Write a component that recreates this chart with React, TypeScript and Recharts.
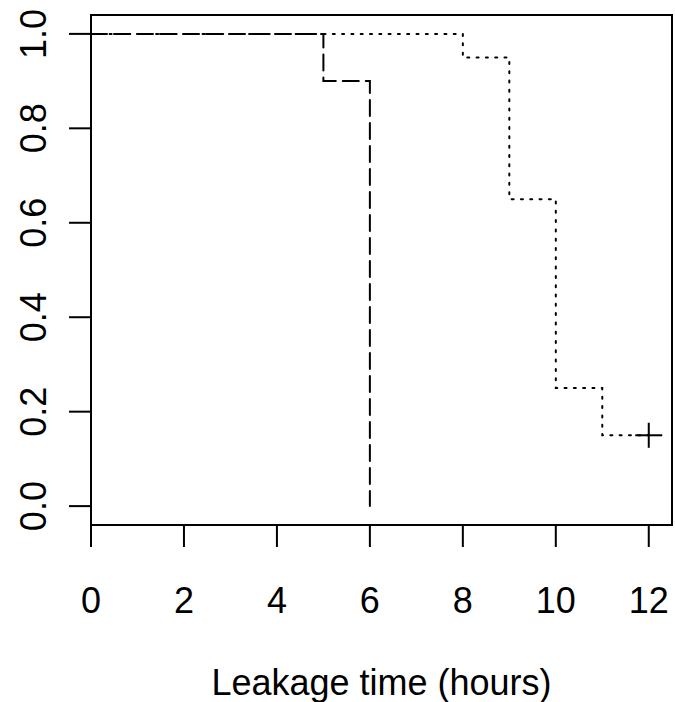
import React from "react";
import {
  ComposedChart,
  Line,
  Scatter,
  XAxis,
  YAxis,
  ReferenceArea,
} from "recharts";

// Kaplan-Meier step curves (time in hours, survival proportion)
const dashedTimes = [0, 5, 6];
const dashedSurv = [1.0, 0.9, 0.0];
const dottedTimes = [0, 8, 9, 10, 11, 12];
const dottedSurv = [1.0, 0.95, 0.65, 0.25, 0.15, 0.15];
const censorTimes = [12];
const censorSurv = [0.15];

const xTicks = [0, 2, 4, 6, 8, 10, 12];
const yTicks = [0, 0.2, 0.4, 0.6, 0.8, 1.0];
const xLabel = "Leakage time (hours)";

const dashedData = dashedTimes.map((t, i) => ({ t, s: dashedSurv[i] }));
const dottedData = dottedTimes.map((t, i) => ({ t, s: dottedSurv[i] }));
const censorData = censorTimes.map((t, i) => ({ t, s: censorSurv[i] }));

const FONT = "'Liberation Sans', Arial, Helvetica, sans-serif";
const FS = 36;

const XTick = (props: any) => {
  const { x, y, payload } = props;
  return (
    <text
      x={x}
      y={y + 64}
      textAnchor="middle"
      fontFamily={FONT}
      fontSize={FS}
      fill="#000"
    >
      {String(payload.value)}
    </text>
  );
};

const YTick = (props: any) => {
  const { x, y, payload } = props;
  const bx = x - 21;
  return (
    <text
      x={bx}
      y={y}
      textAnchor="middle"
      transform={`rotate(-90, ${bx}, ${y})`}
      fontFamily={FONT}
      fontSize={FS}
      fill="#000"
    >
      {Number(payload.value).toFixed(1)}
    </text>
  );
};

const Plus = (props: any) => {
  const { cx, cy } = props;
  const h = 13.5;
  return (
    <g stroke="#000" strokeWidth={2}>
      <line x1={cx - h} y1={cy} x2={cx + h} y2={cy} />
      <line x1={cx} y1={cy - h + 1} x2={cx} y2={cy + h - 1} />
    </g>
  );
};

const XLabel = (props: any) => {
  const vb = props.viewBox;
  return (
    <text
      x={vb.x + vb.width / 2}
      y={vb.y + 170}
      textAnchor="middle"
      fontFamily={FONT}
      fontSize={FS}
      fill="#000"
    >
      {xLabel}
    </text>
  );
};

export default function App() {
  return (
    <div style={{ position: "absolute", left: 0, top: 0, background: "#fff" }}>
      <ComposedChart
        width={675}
        height={702}
        margin={{ top: 15, right: 3, bottom: 117, left: 31 }}
      >
        <XAxis
          dataKey="t"
          type="number"
          domain={[0, 12.5]}
          ticks={xTicks}
          interval={0}
          allowDataOverflow
          axisLine={false}
          tickSize={22}
          tickMargin={2}
          tickLine={{ stroke: "#000", strokeWidth: 2 }}
          tick={<XTick />}
          height={60}
          label={<XLabel />}
        />
        <YAxis
          dataKey="s"
          type="number"
          domain={[-0.04, 1.04]}
          ticks={yTicks}
          interval={0}
          allowDataOverflow
          axisLine={false}
          tickSize={22}
          tickMargin={2}
          tickLine={{ stroke: "#000", strokeWidth: 2 }}
          tick={<YTick />}
          width={60}
        />
        <ReferenceArea
          x1={0}
          x2={12.5}
          y1={-0.04}
          y2={1.04}
          fill="none"
          fillOpacity={0}
          stroke="#000"
          strokeWidth={2}
          ifOverflow="visible"
        />
        <Line
          data={dashedData}
          dataKey="s"
          type="stepAfter"
          stroke="#000"
          strokeWidth={2}
          strokeDasharray="16 7"
          strokeLinecap="round"
          dot={false}
          activeDot={false}
          isAnimationActive={false}
        />
        <Line
          data={dottedData}
          dataKey="s"
          type="stepAfter"
          stroke="#000"
          strokeWidth={2}
          strokeDasharray="2 7.3"
          strokeLinecap="round"
          dot={false}
          activeDot={false}
          isAnimationActive={false}
        />
        <Scatter
          data={censorData}
          dataKey="s"
          shape={<Plus />}
          isAnimationActive={false}
        />
      </ComposedChart>
    </div>
  );
}
